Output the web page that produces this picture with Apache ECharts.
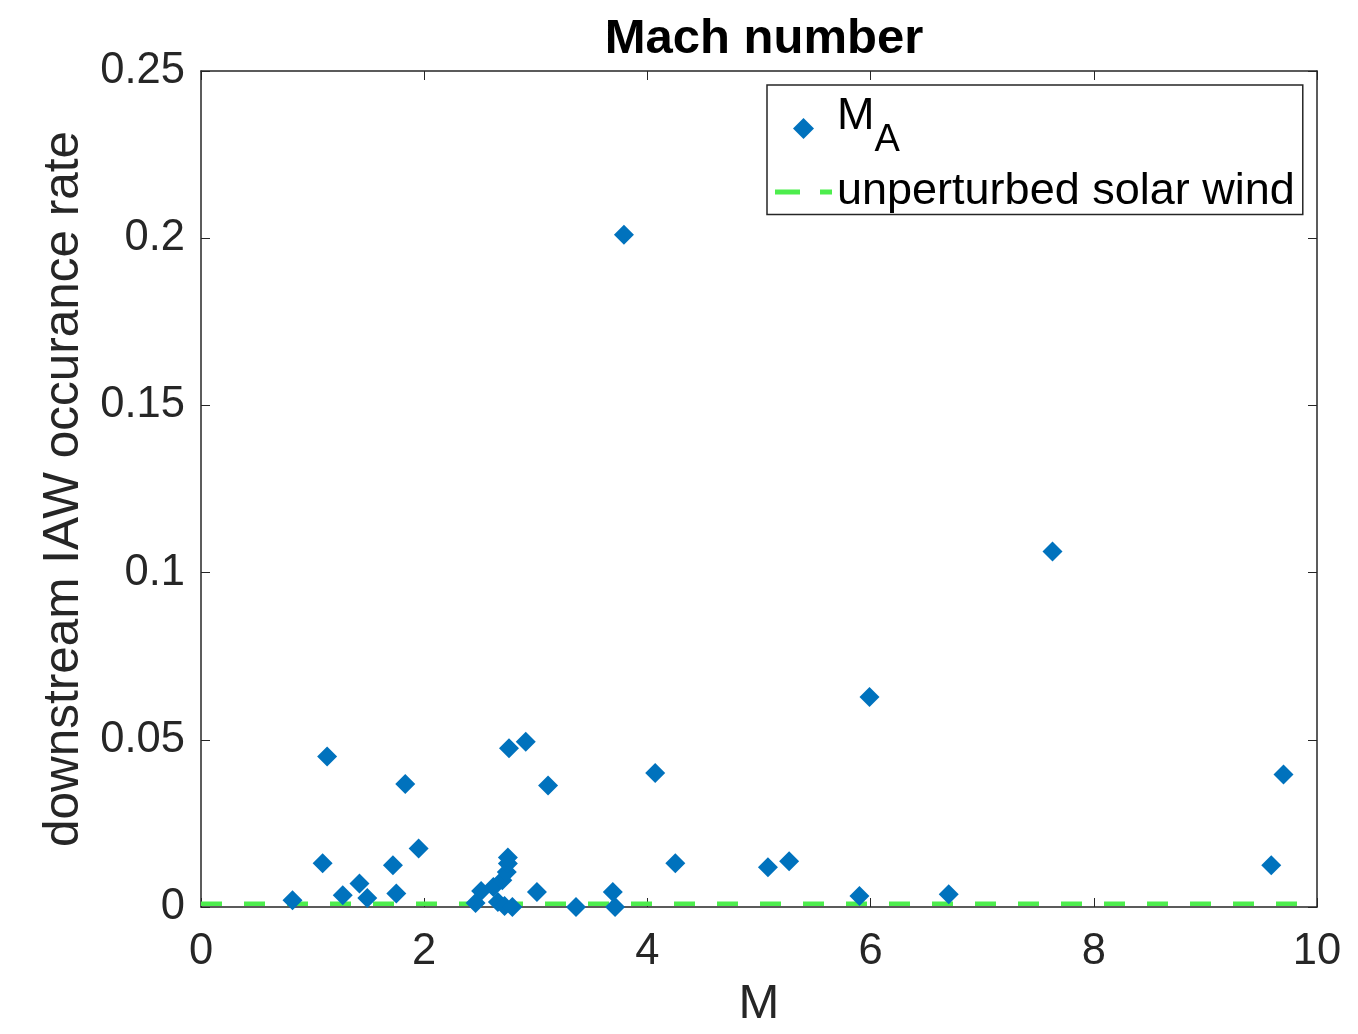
<!DOCTYPE html>
<html>
<head>
<meta charset="utf-8">
<script src="https://cdn.jsdelivr.net/npm/echarts@6/dist/echarts.min.js"></script>
<style>
  html, body { margin: 0; padding: 0; background: #ffffff; }
  #chart { width: 1358px; height: 1034px; }
</style>
</head>
<body>
<div id="chart"></div>
<script>
// Alfvén Mach number of each crossing and the downstream IAW occurrence rate
const mValues = [
  0.82, 1.09, 1.13, 1.27, 1.42, 1.49, 1.72, 1.75, 1.83, 1.95,
  2.46, 2.51, 2.62, 2.66, 2.70, 2.72, 2.74, 2.75, 2.75, 2.79,
  2.76, 2.91, 3.01, 3.11, 3.36, 3.69, 3.71, 3.79, 4.07, 4.25,
  5.08, 5.27, 5.90, 5.99, 6.70, 7.63, 9.59, 9.70
];
const rateValues = [
  0.0020, 0.0131, 0.0450, 0.0035, 0.0070, 0.0027, 0.0125, 0.0040, 0.0368, 0.0175,
  0.0012, 0.0048, 0.0060, 0.0015, 0.0080, 0.0003, 0.0105, 0.0130, 0.0148, 0.0000,
  0.0475, 0.0494, 0.0045, 0.0363, 0.0000, 0.0045, 0.0000, 0.2010, 0.0401, 0.0131,
  0.0119, 0.0137, 0.0033, 0.0628, 0.0038, 0.1063, 0.0125, 0.0396
];
// occurrence rate in the unperturbed solar wind
const solarWindRate = 0.001;
const xRange = [0, 10];
const xTicks = [0, 2, 4, 6, 8, 10];
const yTicks = [0, 0.05, 0.1, 0.15, 0.2, 0.25];

const FONT = 'Liberation Sans, Arial, Helvetica, sans-serif';
const INK = '#262626';
const BLUE = '#0072bd';
const GREEN = '#4ded4d';

const scatterData = mValues.map((m, i) => [m, rateValues[i]]);
const baselineData = xRange.map(x => [x, solarWindRate]);

// legend glyphs: a square-aspect diamond and a two-dash segment
const DIAMOND_ICON = 'path://M0,-1L1,0L0,1L-1,0Z';
const DASH_ICON = 'path://M0,0h25v5h-25zM45,0h12v5h-12z';

const mainAxisCommon = {
  type: 'value',
  axisLine: { show: true, onZero: false, lineStyle: { color: INK, width: 1.5 } },
  axisTick: { show: true, inside: true, length: 9, lineStyle: { color: INK, width: 1 } },
  splitLine: { show: false }
};

const chart = echarts.init(document.getElementById('chart'), null, { renderer: 'canvas' });
chart.setOption({
  animation: false,
  backgroundColor: '#ffffff',
  title: {
    text: 'Mach number',
    left: 759, textAlign: 'center', top: 10,
    textStyle: { fontFamily: FONT, fontSize: 49, fontWeight: 'bold', color: '#000000' }
  },
  grid: { left: 201, right: 41, top: 71, bottom: 123, containLabel: false },
  xAxis: [
    Object.assign({}, mainAxisCommon, {
      position: 'bottom',
      min: xTicks[0], max: xTicks[xTicks.length - 1], interval: 2,
      name: 'M', nameLocation: 'middle', nameGap: 73,
      nameTextStyle: { fontFamily: FONT, fontSize: 49, color: INK },
      axisLabel: { margin: 23, fontFamily: FONT, fontSize: 43.5, color: INK }
    }),
    Object.assign({}, mainAxisCommon, {
      position: 'top',
      min: xTicks[0], max: xTicks[xTicks.length - 1], interval: 2,
      axisLabel: { show: false }
    })
  ],
  yAxis: [
    Object.assign({}, mainAxisCommon, {
      position: 'left',
      min: yTicks[0], max: yTicks[yTicks.length - 1], interval: 0.05,
      name: 'downstream IAW occurance rate', nameLocation: 'middle', nameGap: 100,
      nameTextStyle: { fontFamily: FONT, fontSize: 49.5, color: INK },
      axisLabel: {
        margin: 16, fontFamily: FONT, fontSize: 43.5, color: INK,
        formatter: v => String(Math.round(v * 100) / 100)
      }
    }),
    Object.assign({}, mainAxisCommon, {
      position: 'right',
      min: yTicks[0], max: yTicks[yTicks.length - 1], interval: 0.05,
      axisLabel: { show: false }
    })
  ],
  legend: {
    orient: 'vertical',
    left: 767, top: 85,
    padding: [9, 8, 0, 8],
    itemGap: 10,
    itemWidth: 57, itemHeight: 21,
    selectedMode: false,
    symbolKeepAspect: true,
    borderColor: INK, borderWidth: 1.5,
    backgroundColor: '#ffffff',
    data: [
      { name: 'M_A', icon: DIAMOND_ICON, itemStyle: { color: BLUE } },
      { name: 'unperturbed solar wind', icon: DASH_ICON, itemStyle: { color: GREEN } }
    ],
    formatter: name => name === 'M_A' ? '{m|M}{s|A}' : name,
    textStyle: {
      fontFamily: FONT, fontSize: 45, color: '#000000',
      rich: {
        m: { fontFamily: FONT, fontSize: 45, color: '#000000', padding: [0, 0, 24, 0] },
        s: { fontFamily: FONT, fontSize: 38, color: '#000000', padding: [24, 0, 0, 0] }
      }
    }
  },
  series: [
    {
      name: 'unperturbed solar wind',
      type: 'line',
      xAxisIndex: 0, yAxisIndex: 0,
      data: baselineData,
      symbol: 'none',
      lineStyle: { color: GREEN, width: 4.5, type: [21, 22] },
      itemStyle: { color: GREEN },
      z: 2
    },
    {
      name: 'M_A',
      type: 'scatter',
      xAxisIndex: 0, yAxisIndex: 0,
      data: scatterData,
      symbol: 'diamond',
      symbolSize: 20,
      itemStyle: { color: BLUE, opacity: 1 },
      z: 3
    }
  ]
});
</script>
</body>
</html>
